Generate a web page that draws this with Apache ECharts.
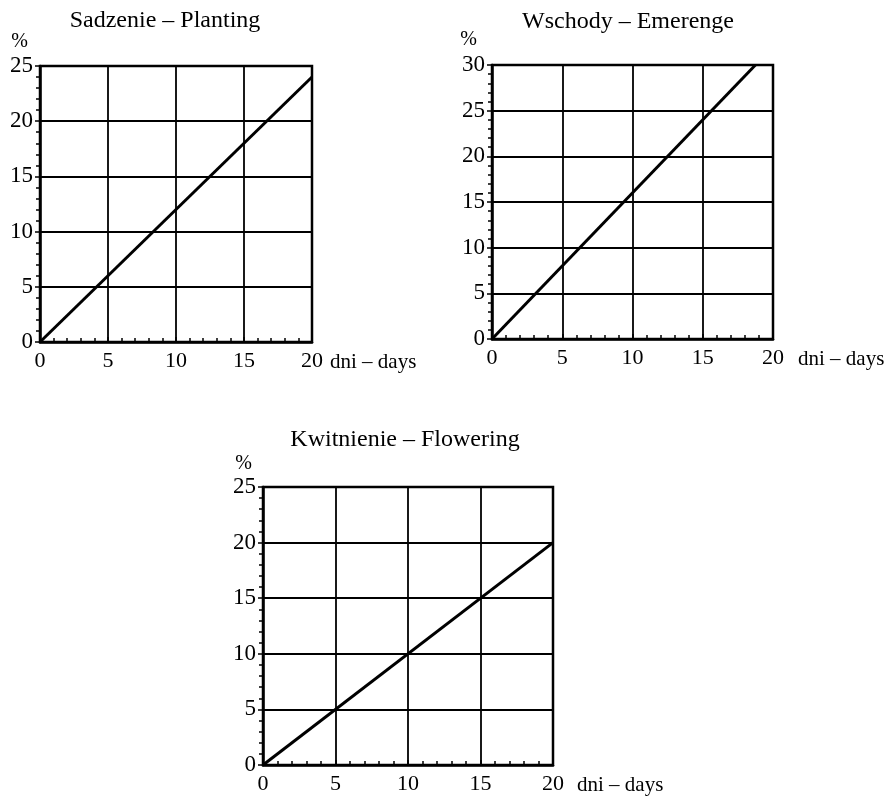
<!DOCTYPE html>
<html>
<head>
<meta charset="utf-8">
<script src="https://cdn.jsdelivr.net/npm/echarts@6/dist/echarts.min.js"></script>
<style>
  html, body { margin: 0; padding: 0; background: #fff; }
  #chart { width: 885px; height: 798px; }
</style>
</head>
<body>
<div id="chart"></div>
<script>
// wykresy: procent vs dni
const titles = ['Sadzenie – Planting', 'Wschody – Emerenge', 'Kwitnienie – Flowering']
const plantingPts = [[0, 0], [20, 24]]
const emergencePts = [[0, 0], [18.75, 30]]
const floweringPts = [[0, 0], [20, 20]]
const yMax = [25, 30, 25]
const xMax = 20
const tickStep = 5
const xName = 'dni – days'
const yName = '%'

const FONT = 'Liberation Serif'
const grids = [
  { left: 40, top: 66, width: 272, height: 276 },
  { left: 492, top: 65, width: 281, height: 274 },
  { left: 263, top: 487, width: 290, height: 278 },
]
const titlePos = [
  { left: 165, top: 9 },
  { left: 628, top: 10 },
  { left: 405, top: 428 },
]
const nameGapsX = [18, 25, 24]
const nameGapsY = [[24, 12], [25, 15], [23, 11]]
const allPts = [plantingPts, emergencePts, floweringPts]

const chart = echarts.init(document.getElementById('chart'))

chart.setOption({
  animation: false,
  backgroundColor: '#fff',
  textStyle: { fontFamily: FONT, color: '#000' },
  title: titles.map((t, i) => ({
    text: t,
    left: titlePos[i].left,
    top: titlePos[i].top,
    textAlign: 'center',
    padding: 0,
    textStyle: { fontFamily: FONT, fontSize: 24, fontWeight: 'normal', color: '#000' },
  })),
  grid: grids.map((g) => ({
    ...g,
    outerBoundsMode: 'none',
    containLabel: false,
    show: true,
    borderColor: '#000',
    borderWidth: 2.5,
    backgroundColor: 'transparent',
  })),
  xAxis: grids.map((g, i) => ({
    type: 'value',
    gridIndex: i,
    min: 0,
    max: xMax,
    interval: tickStep,
    name: xName,
    nameLocation: 'end',
    nameGap: nameGapsX[i],
    nameTextStyle: {
      fontFamily: FONT, fontSize: 21, color: '#000',
      verticalAlign: 'top', lineHeight: 40,
    },
    axisLine: { show: true, lineStyle: { color: '#000', width: 2.5 } },
    axisTick: { show: true, inside: true, length: 5, lineStyle: { color: '#000', width: 1.5 } },
    minorTick: { show: true, splitNumber: 5, length: 4, lineStyle: { color: '#000', width: 1.5 } },
    axisLabel: { fontFamily: FONT, fontSize: 22, color: '#000', margin: 8 },
    splitLine: { show: true, lineStyle: { color: '#000', width: 1.8 } },
  })),
  yAxis: grids.map((g, i) => ({
    type: 'value',
    gridIndex: i,
    min: 0,
    max: yMax[i],
    interval: tickStep,
    name: yName,
    nameLocation: 'end',
    nameGap: nameGapsY[i][0],
    nameTextStyle: {
      fontFamily: FONT, fontSize: 20, color: '#000',
      align: 'right', verticalAlign: 'middle', padding: [0, nameGapsY[i][1], 0, 0],
    },
    axisLine: { show: true, lineStyle: { color: '#000', width: 2.5 } },
    axisTick: { show: true, inside: false, length: 5, lineStyle: { color: '#000', width: 1.5 } },
    minorTick: { show: true, splitNumber: 5, length: 4, lineStyle: { color: '#000', width: 1.5 } },
    axisLabel: { fontFamily: FONT, fontSize: 23, color: '#000', margin: 7 },
    splitLine: { show: true, lineStyle: { color: '#000', width: 1.8 } },
  })),
  series: allPts.map((pts, i) => ({
    type: 'line',
    xAxisIndex: i,
    yAxisIndex: i,
    data: pts,
    showSymbol: false,
    lineStyle: { color: '#000', width: 3 },
    silent: true,
  })),
})
</script>
</body>
</html>
